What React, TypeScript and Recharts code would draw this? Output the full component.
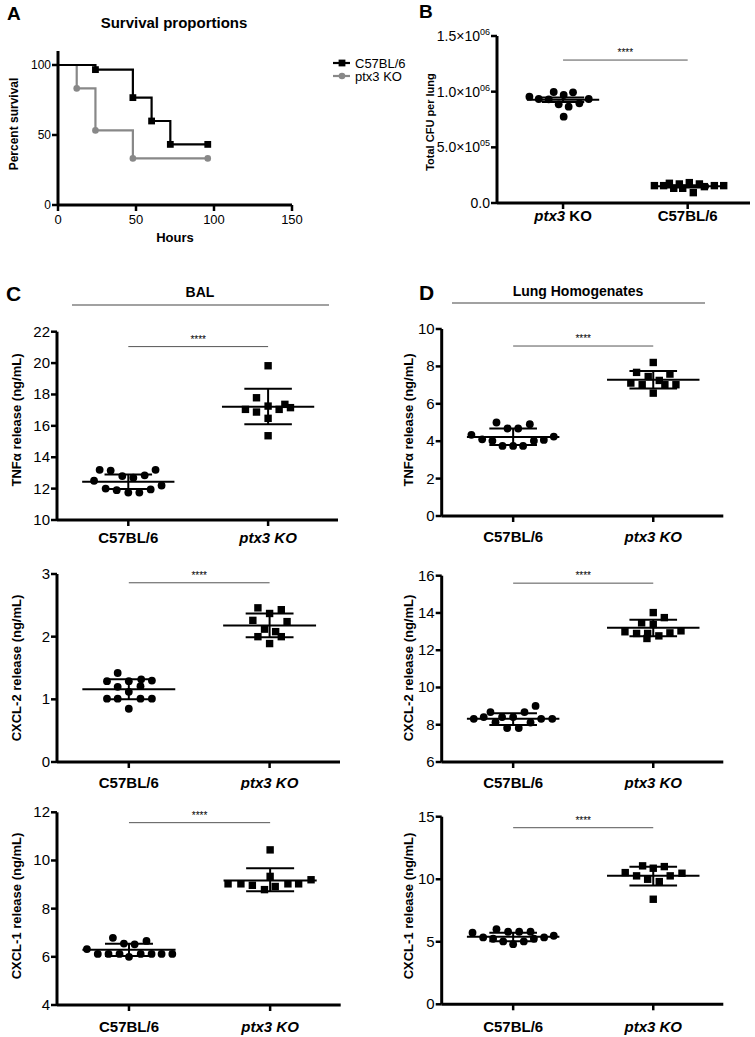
import React from 'react';
import { ComposedChart, LineChart, Line, Scatter, XAxis, YAxis, ReferenceLine } from 'recharts';

const FONT = '"Liberation Sans", Arial, Helvetica, sans-serif';

// ---------- Panel A: survival ----------
const hoursC57 = [0, 24, 48, 60, 72, 96];
const survivalC57 = [100, 96.7, 76.7, 60, 43.3, 43.3];
const hoursPtx3 = [0, 12, 24, 48, 96];
const survivalPtx3 = [100, 83.3, 53.3, 33.3, 33.3];
const survivalXTicks = [0, 50, 100, 150];
const survivalYTicks = [0, 50, 100];

// ---------- Panel B: CFU ----------
const cfuCategories = ['ptx3 KO', 'C57BL/6'];
const cfuPtx3 = [955000, 934000, 931000, 997000, 970000, 994000, 886000, 865000, 895000, 934000, 775000];
const cfuPtx3Jitter = [-0.27, -0.195, -0.115, -0.075, 0.005, 0.08, -0.035, 0.045, 0.131, 0.206, 0.005];
const cfuC57 = [156000, 156000, 177000, 132000, 171000, 132000, 183000, 93000, 171000, 147000, 156000, 156000];
const cfuC57Jitter = [-0.267, -0.193, -0.147, -0.112, -0.067, -0.04, 0.013, 0.045, 0.094, 0.134, 0.214, 0.289];
const cfuPtx3Stats = [928000, 908000, 948000];
const cfuC57Stats = [150000, 140000, 160000];
const cfuYTicks = [0, 500000, 1000000, 1500000];
const cfuBracket = 1284000;

// ---------- Cytokine panels ----------
const cytoCategories = ['C57BL/6', 'ptx3 KO'];

// C1 TNF BAL
const tnfBalC57 = [13.2, 13.15, 12.8, 12.7, 12.85, 13.2, 12.5, 12.0, 11.9, 11.75, 11.75, 11.95, 12.2];
const tnfBalC57Jitter = [-0.205, -0.126, -0.043, 0.036, 0.117, 0.195, -0.245, -0.162, -0.083, 0, 0.079, 0.16, 0.238];
const tnfBalPtx3 = [19.83, 17.79, 17.05, 16.88, 17.26, 16.48, 15.37, 17.05, 17.37, 17.16];
const tnfBalPtx3Jitter = [0, -0.083, -0.162, -0.083, 0, 0, 0, 0.079, 0.12, 0.16];
const tnfBalC57Stats = [12.43, 11.98, 12.9];
const tnfBalPtx3Stats = [17.22, 16.1, 18.36];
const tnfBalTicks = [10, 12, 14, 16, 18, 20, 22];

// C2 CXCL-2 BAL
const cxcl2BalC57 = [1.42, 1.29, 1.29, 1.32, 1.3, 1.2, 1.21, 1.01, 1.01, 1.12, 1.01, 1.01, 0.85];
const cxcl2BalC57Jitter = [-0.079, -0.155, 0, 0.088, 0.164, -0.079, 0.083, -0.155, -0.079, 0, 0.083, 0.164, 0];
const cxcl2BalPtx3 = [2.46, 2.37, 2.43, 2.26, 2.24, 2.12, 2.08, 2.0, 2.0, 1.89];
const cxcl2BalPtx3Jitter = [-0.083, 0, 0.083, -0.119, 0.124, -0.036, 0.043, -0.083, 0.083, 0];
const cxcl2BalC57Stats = [1.16, 1.0, 1.32];
const cxcl2BalPtx3Stats = [2.18, 1.99, 2.37];
const cxcl2BalTicks = [0, 1, 2, 3];

// C3 CXCL-1 BAL
const cxcl1BalC57 = [6.32, 6.12, 6.12, 6.79, 6.12, 6.55, 6.0, 6.52, 6.12, 6.66, 6.12, 6.12, 6.12];
const cxcl1BalC57Jitter = [-0.298, -0.221, -0.145, -0.114, -0.067, -0.036, 0, 0.04, 0.083, 0.124, 0.16, 0.231, 0.307];
const cxcl1BalPtx3 = [10.44, 9.34, 9.03, 9.03, 8.97, 8.79, 8.92, 9.03, 9.03, 9.2];
const cxcl1BalPtx3Jitter = [0, 0, -0.298, -0.207, -0.126, -0.04, 0.036, 0.126, 0.202, 0.29];
const cxcl1BalC57Stats = [6.29, 6.03, 6.54];
const cxcl1BalPtx3Stats = [9.17, 8.72, 9.68];
const cxcl1BalTicks = [4, 6, 8, 10, 12];

// D1 TNF lung
const tnfLungC57 = [4.34, 4.1, 4.02, 5.0, 3.75, 4.68, 3.75, 4.68, 3.75, 4.91, 4.02, 4.07, 4.25];
const tnfLungC57Jitter = [-0.298, -0.221, -0.148, -0.119, -0.076, -0.04, 0, 0.036, 0.071, 0.119, 0.148, 0.219, 0.29];
const tnfLungPtx3 = [8.21, 7.68, 7.46, 7.59, 7.11, 7.02, 7.25, 7.02, 7.02, 6.57];
const tnfLungPtx3Jitter = [0, -0.119, -0.036, 0.119, -0.16, -0.079, 0.043, 0.083, 0.162, 0];
const tnfLungC57Stats = [4.23, 3.8, 4.68];
const tnfLungPtx3Stats = [7.29, 6.82, 7.75];
const tnfLungTicks = [0, 2, 4, 6, 8, 10];

// D2 CXCL-2 lung
const cxcl2LungC57 = [8.32, 8.41, 8.68, 8.14, 8.41, 7.82, 8.41, 7.82, 8.68, 8.12, 9.01, 8.32, 8.32];
const cxcl2LungC57Jitter = [-0.281, -0.21, -0.162, -0.126, -0.079, -0.043, 0, 0.04, 0.081, 0.124, 0.16, 0.2, 0.279];
const cxcl2LungPtx3 = [14.02, 13.75, 13.47, 13.38, 12.99, 12.9, 12.9, 12.77, 12.93, 13.04, 12.63];
const cxcl2LungPtx3Jitter = [0, 0.079, -0.083, 0, -0.202, -0.119, -0.04, 0.04, 0.119, 0.198, -0.045];
const cxcl2LungC57Stats = [8.32, 7.98, 8.62];
const cxcl2LungPtx3Stats = [13.2, 12.75, 13.64];
const cxcl2LungTicks = [6, 8, 10, 12, 14, 16];

// D3 CXCL-1 lung
const cxcl1LungC57 = [5.72, 5.35, 5.24, 6.01, 5.03, 5.8, 4.81, 5.8, 5.03, 5.8, 5.24, 5.35, 5.48];
const cxcl1LungC57Jitter = [-0.29, -0.214, -0.143, -0.119, -0.071, -0.036, 0, 0.043, 0.076, 0.124, 0.148, 0.221, 0.29];
const cxcl1LungPtx3 = [11.07, 10.88, 11.01, 10.53, 10.27, 10.0, 9.81, 10.27, 10.48, 8.4];
const cxcl1LungPtx3Jitter = [-0.076, 0, 0.079, -0.2, -0.119, -0.04, 0.043, 0.121, 0.205, 0];
const cxcl1LungC57Stats = [5.4, 5.05, 5.72];
const cxcl1LungPtx3Stats = [10.27, 9.49, 11.0];
const cxcl1LungTicks = [0, 5, 10, 15];

const AXIS_LINE = { stroke: '#000', strokeWidth: 3 };
const TICK_LINE = { stroke: '#000', strokeWidth: 2.5 };

const circleShape = (r: number, fill: string) => (p: any) => (
  <circle cx={p.cx} cy={p.cy} r={r} fill={fill} />
);
const squareShape = (s: number, fill: string) => (p: any) => (
  <rect x={p.cx - s / 2} y={p.cy - s / 2} width={s} height={s} fill={fill} />
);

const renderCatTick = (labels: string[], italicAll: boolean, dy: number) => (p: any) => {
  const lab = labels[Math.round(p.payload.value) - 1] || '';
  const isPtx = lab.startsWith('ptx3');
  return (
    <text x={p.x} y={p.y} dy={dy} textAnchor="middle" fontFamily={FONT} fontSize={15} fontWeight="bold" fill="#000">
      {isPtx ? (
        italicAll ? (
          <tspan fontStyle="italic">{lab}</tspan>
        ) : (
          <>
            <tspan fontStyle="italic">ptx3</tspan>
            <tspan> KO</tspan>
          </>
        )
      ) : (
        lab
      )}
    </text>
  );
};

const renderNumTick = (p: any) => (
  <text x={p.x} y={p.y} dy={5} textAnchor={p.textAnchor} fontFamily={FONT} fontSize={15} fill="#000">
    {p.payload.value}
  </text>
);

const renderXNumTick = (p: any) => (
  <text x={p.x} y={p.y} dy={11} textAnchor="middle" fontFamily={FONT} fontSize={13} fill="#000">
    {p.payload.value}
  </text>
);

const renderSciTick = (p: any) => {
  const v = p.payload.value;
  if (v === 0) {
    return (
      <text x={p.x} y={p.y} dy={5} textAnchor="end" fontFamily={FONT} fontSize={14} fill="#000">
        0.0
      </text>
    );
  }
  const exp = Math.floor(Math.log10(v) + 1e-9);
  const mant = (v / Math.pow(10, exp)).toFixed(1);
  return (
    <text x={p.x} y={p.y} dy={5} textAnchor="end" fontFamily={FONT} fontSize={14} fill="#000">
      {mant}×10
      <tspan dy={-6} fontSize={9}>
        {(exp < 10 ? '0' : '') + exp}
      </tspan>
    </text>
  );
};

type Box = { left: number; top: number; width: number; height: number };
type Plot = { left: number; right: number; top: number; bottom: number };
type Group = { pos: number; values: number[]; jitter: number[]; stats: number[]; shape: 'circle' | 'square' };

function DotPanel(props: {
  box: Box;
  plot: Plot;
  xDomain: [number, number];
  yDomain: [number, number];
  yTicks: number[];
  groups: Group[];
  bracket: number;
  labels: string[];
  italicAll: boolean;
  labelDy: number;
  sci?: boolean;
  meanHalf: number;
  capHalf: number;
}) {
  const { box, plot, groups } = props;
  const margin = {
    top: plot.top - box.top,
    right: box.left + box.width - plot.right,
    left: 0,
    bottom: 0,
  };
  const yAxisWidth = plot.left - box.left;
  const xAxisHeight = box.top + box.height - plot.bottom;
  return (
    <div style={{ position: 'absolute', left: box.left, top: box.top }}>
      <ComposedChart width={box.width} height={box.height} margin={margin}>
        <XAxis
          type="number"
          dataKey="x"
          domain={props.xDomain}
          ticks={[1, 2]}
          allowDataOverflow
          height={xAxisHeight}
          axisLine={AXIS_LINE}
          tickLine={TICK_LINE}
          tickSize={6}
          tick={renderCatTick(props.labels, props.italicAll, props.labelDy)}
          interval={0}
        />
        <YAxis
          type="number"
          dataKey="y"
          domain={props.yDomain}
          ticks={props.yTicks}
          allowDataOverflow
          width={yAxisWidth}
          axisLine={AXIS_LINE}
          tickLine={TICK_LINE}
          tickSize={6}
          tickMargin={1}
          tick={props.sci ? renderSciTick : renderNumTick}
          interval={0}
        />
        {groups.map((g, gi) => (
          <Scatter
            key={'s' + gi}
            data={g.values.map((v, i) => ({ x: g.pos + g.jitter[i], y: v }))}
            isAnimationActive={false}
            shape={g.shape === 'circle' ? circleShape(3.9, '#000') : squareShape(7.4, '#000')}
          />
        ))}
        {groups.map((g, gi) => (
          <ReferenceLine
            key={'m' + gi}
            segment={[
              { x: g.pos - props.meanHalf, y: g.stats[0] },
              { x: g.pos + props.meanHalf, y: g.stats[0] },
            ]}
            stroke="#000"
            strokeWidth={2}
            ifOverflow="visible"
          />
        ))}
        {groups.map((g, gi) => (
          <ReferenceLine
            key={'v' + gi}
            segment={[
              { x: g.pos, y: g.stats[1] },
              { x: g.pos, y: g.stats[2] },
            ]}
            stroke="#000"
            strokeWidth={2}
            ifOverflow="visible"
          />
        ))}
        {groups.map((g, gi) => (
          <ReferenceLine
            key={'lo' + gi}
            segment={[
              { x: g.pos - props.capHalf, y: g.stats[1] },
              { x: g.pos + props.capHalf, y: g.stats[1] },
            ]}
            stroke="#000"
            strokeWidth={2}
            ifOverflow="visible"
          />
        ))}
        {groups.map((g, gi) => (
          <ReferenceLine
            key={'hi' + gi}
            segment={[
              { x: g.pos - props.capHalf, y: g.stats[2] },
              { x: g.pos + props.capHalf, y: g.stats[2] },
            ]}
            stroke="#000"
            strokeWidth={2}
            ifOverflow="visible"
          />
        ))}
        <ReferenceLine
          segment={[
            { x: 1, y: props.bracket },
            { x: 2, y: props.bracket },
          ]}
          stroke="#555"
          strokeWidth={1}
          ifOverflow="visible"
          label={{ value: '****', position: 'top', fontSize: 10, fill: '#000', fontFamily: FONT, offset: 4 }}
        />
      </ComposedChart>
    </div>
  );
}

function SurvivalPanel() {
  const box = { left: 0, top: 40, width: 320, height: 200 };
  const plot = { left: 58, right: 292, top: 51, bottom: 205 };
  const c57 = hoursC57.map((h, i) => ({ x: h, y: survivalC57[i] }));
  const ptx = hoursPtx3.map((h, i) => ({ x: h, y: survivalPtx3[i] }));
  const sqDot = (p: any) =>
    p.index === 0 ? <g key={'d' + p.index} /> : <rect key={'d' + p.index} x={p.cx - 3.4} y={p.cy - 3.4} width={6.8} height={6.8} fill="#000" />;
  const ciDot = (p: any) =>
    p.index === 0 ? <g key={'d' + p.index} /> : <circle key={'d' + p.index} cx={p.cx} cy={p.cy} r={3.3} fill="#888" />;
  return (
    <div style={{ position: 'absolute', left: box.left, top: box.top }}>
      <LineChart
        width={box.width}
        height={box.height}
        margin={{ top: plot.top - box.top, right: box.left + box.width - plot.right, left: 0, bottom: 0 }}
      >
        <XAxis
          type="number"
          dataKey="x"
          domain={[0, 150]}
          ticks={survivalXTicks}
          height={box.top + box.height - plot.bottom}
          axisLine={AXIS_LINE}
          tickLine={TICK_LINE}
          tickSize={6}
          tick={renderXNumTick}
          interval={0}
        />
        <YAxis
          type="number"
          dataKey="y"
          domain={[0, 110]}
          ticks={survivalYTicks}
          width={plot.left - box.left}
          axisLine={AXIS_LINE}
          tickLine={TICK_LINE}
          tickSize={6}
          tickMargin={1}
          tick={(p: any) => (
            <text x={p.x} y={p.y} dy={4} textAnchor="end" fontFamily={FONT} fontSize={12} fill="#000">
              {p.payload.value}
            </text>
          )}
          interval={0}
        />
        <Line data={ptx} dataKey="y" type="stepAfter" stroke="#888" strokeWidth={2.2} dot={ciDot} isAnimationActive={false} />
        <Line data={c57} dataKey="y" type="stepAfter" stroke="#000" strokeWidth={2.2} dot={sqDot} isAnimationActive={false} />
      </LineChart>
    </div>
  );
}

function VLabel({ x, y, text, size }: { x: number; y: number; text: string; size: number }) {
  return (
    <text
      x={x}
      y={y}
      transform={`rotate(-90 ${x} ${y})`}
      textAnchor="middle"
      fontFamily={FONT}
      fontSize={size}
      fontWeight="bold"
      fill="#000"
    >
      {text}
    </text>
  );
}

export default function App() {
  const cytoX: [number, number] = [0.49, 2.5];
  const MH = 0.33;
  const CH = 0.17;
  return (
    <div style={{ position: 'absolute', left: 0, top: 0, width: 755, height: 1037, background: '#fff', fontFamily: FONT }}>
      <SurvivalPanel />
      <DotPanel
        box={{ left: 380, top: 20, width: 372, height: 210 }}
        plot={{ left: 497, right: 750, top: 36, bottom: 203 }}
        xDomain={[0.47, 2.5]}
        yDomain={[0, 1500000]}
        yTicks={cfuYTicks}
        groups={[
          { pos: 1, values: cfuPtx3, jitter: cfuPtx3Jitter, stats: cfuPtx3Stats, shape: 'circle' },
          { pos: 2, values: cfuC57, jitter: cfuC57Jitter, stats: cfuC57Stats, shape: 'square' },
        ]}
        bracket={cfuBracket}
        labels={cfuCategories}
        italicAll={false}
        labelDy={10}
        sci
        meanHalf={0.29}
        capHalf={0.17}
      />
      <DotPanel
        box={{ left: 0, top: 320, width: 345, height: 230 }}
        plot={{ left: 57, right: 338, top: 331.7, bottom: 520 }}
        xDomain={cytoX}
        yDomain={[10, 22]}
        yTicks={tnfBalTicks}
        groups={[
          { pos: 1, values: tnfBalC57, jitter: tnfBalC57Jitter, stats: tnfBalC57Stats, shape: 'circle' },
          { pos: 2, values: tnfBalPtx3, jitter: tnfBalPtx3Jitter, stats: tnfBalPtx3Stats, shape: 'square' },
        ]}
        bracket={21.05}
        labels={cytoCategories}
        italicAll
        labelDy={15}
        meanHalf={MH}
        capHalf={CH}
      />
      <DotPanel
        box={{ left: 0, top: 560, width: 345, height: 230 }}
        plot={{ left: 57, right: 340, top: 574, bottom: 762 }}
        xDomain={cytoX}
        yDomain={[0, 3]}
        yTicks={cxcl2BalTicks}
        groups={[
          { pos: 1, values: cxcl2BalC57, jitter: cxcl2BalC57Jitter, stats: cxcl2BalC57Stats, shape: 'circle' },
          { pos: 2, values: cxcl2BalPtx3, jitter: cxcl2BalPtx3Jitter, stats: cxcl2BalPtx3Stats, shape: 'square' },
        ]}
        bracket={2.86}
        labels={cytoCategories}
        italicAll
        labelDy={18}
        meanHalf={MH}
        capHalf={CH}
      />
      <DotPanel
        box={{ left: 0, top: 800, width: 345, height: 237 }}
        plot={{ left: 57, right: 340.7, top: 812.3, bottom: 1005 }}
        xDomain={cytoX}
        yDomain={[4, 12]}
        yTicks={cxcl1BalTicks}
        groups={[
          { pos: 1, values: cxcl1BalC57, jitter: cxcl1BalC57Jitter, stats: cxcl1BalC57Stats, shape: 'circle' },
          { pos: 2, values: cxcl1BalPtx3, jitter: cxcl1BalPtx3Jitter, stats: cxcl1BalPtx3Stats, shape: 'square' },
        ]}
        bracket={11.57}
        labels={cytoCategories}
        italicAll
        labelDy={19}
        meanHalf={MH}
        capHalf={CH}
      />
      <DotPanel
        box={{ left: 380, top: 320, width: 350, height: 230 }}
        plot={{ left: 441.7, right: 723.3, top: 329, bottom: 516 }}
        xDomain={cytoX}
        yDomain={[0, 10]}
        yTicks={tnfLungTicks}
        groups={[
          { pos: 1, values: tnfLungC57, jitter: tnfLungC57Jitter, stats: tnfLungC57Stats, shape: 'circle' },
          { pos: 2, values: tnfLungPtx3, jitter: tnfLungPtx3Jitter, stats: tnfLungPtx3Stats, shape: 'square' },
        ]}
        bracket={9.09}
        labels={cytoCategories}
        italicAll
        labelDy={18}
        meanHalf={MH}
        capHalf={CH}
      />
      <DotPanel
        box={{ left: 380, top: 560, width: 350, height: 230 }}
        plot={{ left: 441.7, right: 723.3, top: 575.7, bottom: 762 }}
        xDomain={cytoX}
        yDomain={[6, 16]}
        yTicks={cxcl2LungTicks}
        groups={[
          { pos: 1, values: cxcl2LungC57, jitter: cxcl2LungC57Jitter, stats: cxcl2LungC57Stats, shape: 'circle' },
          { pos: 2, values: cxcl2LungPtx3, jitter: cxcl2LungPtx3Jitter, stats: cxcl2LungPtx3Stats, shape: 'square' },
        ]}
        bracket={15.6}
        labels={cytoCategories}
        italicAll
        labelDy={18}
        meanHalf={MH}
        capHalf={CH}
      />
      <DotPanel
        box={{ left: 380, top: 800, width: 350, height: 237 }}
        plot={{ left: 441.7, right: 723.3, top: 816.7, bottom: 1004.3 }}
        xDomain={cytoX}
        yDomain={[0, 15]}
        yTicks={cxcl1LungTicks}
        groups={[
          { pos: 1, values: cxcl1LungC57, jitter: cxcl1LungC57Jitter, stats: cxcl1LungC57Stats, shape: 'circle' },
          { pos: 2, values: cxcl1LungPtx3, jitter: cxcl1LungPtx3Jitter, stats: cxcl1LungPtx3Stats, shape: 'square' },
        ]}
        bracket={14.12}
        labels={cytoCategories}
        italicAll
        labelDy={20}
        meanHalf={MH}
        capHalf={CH}
      />
      <svg
        width={755}
        height={1037}
        style={{ position: 'absolute', left: 0, top: 0, pointerEvents: 'none' }}
      >
        <g fontFamily={FONT} fill="#000">
          <text x={7} y={20} fontSize={19} fontWeight="bold">A</text>
          <text x={419} y={18} fontSize={19} fontWeight="bold">B</text>
          <text x={6} y={301} fontSize={21} fontWeight="bold">C</text>
          <text x={419} y={300} fontSize={21} fontWeight="bold">D</text>
          <text x={174} y={28} fontSize={15} fontWeight="bold" textAnchor="middle">Survival proportions</text>
          <text x={175} y={242} fontSize={13} fontWeight="bold" textAnchor="middle">Hours</text>
          <text x={200} y={297} fontSize={14} fontWeight="bold" textAnchor="middle">BAL</text>
          <text x={578} y={296} fontSize={14} fontWeight="bold" textAnchor="middle">Lung Homogenates</text>
        </g>
        <line x1={72} y1={305} x2={329} y2={305} stroke="#444" strokeWidth={1.2} />
        <line x1={452} y1={303} x2={705} y2={303} stroke="#444" strokeWidth={1.2} />
        {/* legend */}
        <line x1={333} y1={63} x2={350} y2={63} stroke="#000" strokeWidth={2.2} />
        <rect x={338.6} y={59.6} width={6.8} height={6.8} fill="#000" />
        <text x={355} y={68} fontFamily={FONT} fontSize={13} fill="#000">C57BL/6</text>
        <line x1={333} y1={76} x2={350} y2={76} stroke="#888" strokeWidth={2.2} />
        <circle cx={342} cy={76} r={3.3} fill="#888" />
        <text x={355} y={81} fontFamily={FONT} fontSize={13} fill="#000">ptx3 KO</text>
        {/* axis titles */}
        <VLabel x={18} y={124} text="Percent survival" size={12} />
        <VLabel x={434} y={122} text="Total CFU per lung" size={11} />
        <VLabel x={21} y={420} text="TNFα release (ng/mL)" size={13} />
        <VLabel x={21} y={668} text="CXCL-2 release (ng/mL)" size={13} />
        <VLabel x={21} y={906} text="CXCL-1 release (ng/mL)" size={13} />
        <VLabel x={413} y={420} text="TNFα release (ng/mL)" size={13} />
        <VLabel x={413} y={668} text="CXCL-2 release (ng/mL)" size={13} />
        <VLabel x={413} y={906} text="CXCL-1 release (ng/mL)" size={13} />
      </svg>
    </div>
  );
}
